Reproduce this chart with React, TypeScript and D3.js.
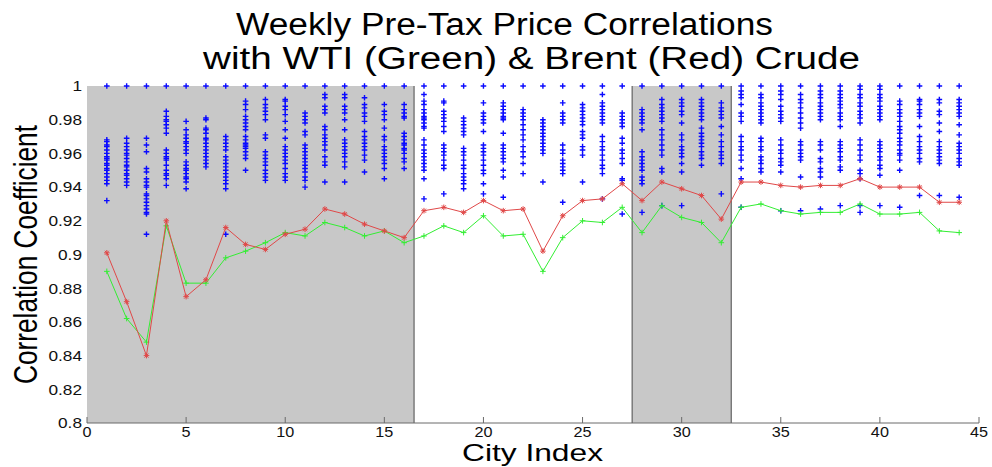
import React from 'react';
import * as d3 from 'd3';

// ---------- data ----------
const cityIndex = [1,2,3,4,5,6,7,8,9,10,11,12,13,14,15,16,17,18,19,20,21,22,23,24,25,26,27,28,29,30,31,32,33,34,35,36,37,38,39,40,41,42,43,44];

// Brent (red) correlation per city
const brentCorr = [0.901,0.872,0.840,0.920,0.875,0.885,0.916,0.906,0.903,0.912,0.915,0.927,0.924,0.918,0.914,0.910,0.926,0.928,0.925,0.932,0.926,0.927,0.902,0.923,0.932,0.933,0.942,0.932,0.943,0.939,0.935,0.921,0.943,0.943,0.941,0.940,0.941,0.941,0.945,0.940,0.940,0.940,0.931,0.931];

// WTI (green) correlation per city
const wtiCorr = [0.890,0.862,0.848,0.917,0.883,0.883,0.898,0.902,0.907,0.913,0.911,0.919,0.916,0.911,0.914,0.907,0.911,0.917,0.913,0.923,0.911,0.912,0.890,0.910,0.920,0.919,0.928,0.913,0.929,0.922,0.919,0.907,0.928,0.930,0.926,0.924,0.925,0.925,0.930,0.924,0.924,0.925,0.914,0.913];

// Pairwise city-to-city correlations (blue points), one list per city
const cityPairCorr: number[][] = [
  [1.0,0.968,0.967,0.965,0.964,0.962,0.960,0.958,0.957,0.956,0.954,0.953,0.951,0.950,0.948,0.946,0.944,0.942,0.932],
  [1.0,0.969,0.966,0.964,0.962,0.960,0.959,0.957,0.955,0.953,0.952,0.950,0.948,0.947,0.945,0.943,0.941],
  [1.0,0.969,0.965,0.961,0.951,0.949,0.945,0.943,0.941,0.940,0.936,0.935,0.933,0.931,0.929,0.927,0.925,0.924,0.912],
  [1.0,0.985,0.982,0.980,0.979,0.977,0.975,0.972,0.962,0.960,0.958,0.957,0.956,0.953,0.950,0.948,0.947,0.945,0.941],
  [1.0,0.979,0.974,0.971,0.969,0.967,0.966,0.964,0.962,0.960,0.955,0.953,0.951,0.950,0.948,0.946,0.945,0.943,0.939],
  [1.0,0.981,0.980,0.975,0.974,0.972,0.969,0.968,0.966,0.964,0.962,0.960,0.958,0.956,0.954,0.952],
  [1.0,0.970,0.968,0.966,0.964,0.962,0.958,0.956,0.954,0.952,0.950,0.948,0.946,0.944,0.942,0.939,0.912],
  [1.0,0.991,0.989,0.986,0.982,0.980,0.978,0.976,0.974,0.970,0.968,0.966,0.965,0.964,0.963,0.961,0.959,0.957,0.950],
  [1.0,0.992,0.989,0.987,0.985,0.983,0.980,0.971,0.969,0.961,0.959,0.957,0.955,0.953,0.950,0.948,0.946,0.944],
  [1.0,0.992,0.991,0.988,0.986,0.983,0.979,0.974,0.969,0.964,0.962,0.960,0.958,0.956,0.954,0.951,0.948,0.946,0.944],
  [1.0,0.984,0.982,0.980,0.978,0.973,0.971,0.965,0.963,0.961,0.959,0.957,0.955,0.953,0.951,0.949,0.946,0.944,0.940],
  [1.0,0.995,0.993,0.988,0.986,0.984,0.976,0.974,0.971,0.969,0.967,0.965,0.962,0.958,0.955,0.953,0.943],
  [1.0,0.995,0.993,0.988,0.986,0.984,0.980,0.974,0.968,0.966,0.964,0.962,0.960,0.958,0.955,0.952,0.943],
  [1.0,0.993,0.989,0.987,0.984,0.982,0.979,0.973,0.970,0.968,0.966,0.964,0.962,0.959,0.956,0.949],
  [1.0,0.989,0.985,0.983,0.980,0.975,0.970,0.968,0.964,0.962,0.960,0.958,0.956,0.954,0.951,0.945],
  [1.0,0.989,0.986,0.984,0.982,0.981,0.972,0.970,0.968,0.966,0.965,0.963,0.962,0.960,0.957,0.955,0.951],
  [1.0,0.995,0.991,0.989,0.986,0.984,0.982,0.981,0.980,0.978,0.976,0.975,0.968,0.965,0.962,0.960,0.958,0.956,0.954,0.952,0.950,0.945,0.933],
  [1.0,0.991,0.990,0.985,0.983,0.981,0.979,0.976,0.973,0.965,0.963,0.961,0.959,0.956,0.953,0.951,0.936],
  [1.0,0.981,0.979,0.977,0.975,0.973,0.971,0.963,0.961,0.959,0.956,0.953,0.951,0.948,0.946,0.944,0.942,0.939],
  [1.0,0.990,0.984,0.982,0.980,0.978,0.973,0.965,0.963,0.961,0.959,0.956,0.953,0.950,0.948,0.942,0.936],
  [1.0,0.990,0.988,0.986,0.984,0.982,0.981,0.980,0.972,0.965,0.963,0.961,0.959,0.957,0.955,0.950,0.946,0.934],
  [1.0,0.986,0.984,0.982,0.980,0.977,0.974,0.971,0.968,0.964,0.961,0.958,0.954,0.948],
  [1.0,0.980,0.978,0.976,0.974,0.972,0.970,0.968,0.966,0.964,0.962,0.960,0.943],
  [1.0,0.990,0.984,0.982,0.980,0.978,0.965,0.962,0.960,0.956,0.954,0.952,0.950,0.948,0.931],
  [1.0,0.989,0.987,0.985,0.983,0.981,0.979,0.977,0.973,0.971,0.969,0.964,0.962,0.959,0.943],
  [1.0,0.995,0.990,0.988,0.986,0.984,0.982,0.980,0.978,0.970,0.967,0.964,0.962,0.959,0.956,0.953,0.951,0.948,0.933],
  [1.0,0.984,0.982,0.980,0.978,0.976,0.969,0.966,0.962,0.960,0.957,0.954,0.945,0.944,0.924],
  [1.0,0.986,0.984,0.982,0.980,0.978,0.974,0.961,0.958,0.956,0.954,0.952,0.950,0.946,0.944,0.942,0.925],
  [1.0,0.992,0.989,0.987,0.985,0.983,0.981,0.979,0.974,0.971,0.968,0.965,0.962,0.959,0.951,0.949,0.929],
  [1.0,0.992,0.990,0.988,0.985,0.983,0.978,0.971,0.968,0.964,0.962,0.960,0.958,0.954,0.949,0.929],
  [1.0,0.992,0.990,0.988,0.986,0.984,0.982,0.980,0.975,0.972,0.970,0.968,0.966,0.964,0.961,0.959,0.957,0.953],
  [1.0,0.990,0.987,0.985,0.983,0.981,0.976,0.971,0.967,0.964,0.961,0.959,0.957,0.954,0.936],
  [1.0,0.997,0.995,0.993,0.989,0.984,0.982,0.979,0.970,0.967,0.964,0.962,0.959,0.956,0.951,0.945,0.928],
  [1.0,0.995,0.993,0.990,0.988,0.986,0.984,0.982,0.980,0.978,0.969,0.967,0.964,0.962,0.958,0.956,0.954,0.951,0.949],
  [1.0,0.997,0.995,0.992,0.988,0.985,0.983,0.981,0.979,0.968,0.965,0.962,0.960,0.957,0.955,0.953,0.949,0.926],
  [1.0,0.995,0.992,0.990,0.987,0.984,0.981,0.978,0.975,0.967,0.965,0.962,0.960,0.958,0.956,0.946,0.926],
  [1.0,0.997,0.995,0.993,0.990,0.988,0.986,0.984,0.982,0.980,0.967,0.965,0.962,0.957,0.955,0.951,0.949,0.946,0.927],
  [1.0,0.997,0.995,0.993,0.991,0.989,0.987,0.984,0.982,0.980,0.976,0.967,0.965,0.963,0.961,0.958,0.956,0.952,0.950,0.929],
  [1.0,0.998,0.995,0.993,0.990,0.988,0.985,0.983,0.981,0.978,0.968,0.965,0.962,0.959,0.956,0.950,0.948,0.945,0.929,0.925],
  [1.0,0.998,0.995,0.993,0.991,0.988,0.986,0.984,0.982,0.980,0.967,0.965,0.963,0.961,0.958,0.956,0.953,0.951,0.947,0.929],
  [1.0,0.991,0.989,0.986,0.984,0.982,0.979,0.976,0.974,0.972,0.969,0.967,0.965,0.962,0.960,0.959,0.956,0.950,0.928],
  [1.0,0.992,0.991,0.989,0.986,0.984,0.982,0.976,0.970,0.967,0.964,0.962,0.960,0.957,0.955,0.935],
  [1.0,0.992,0.990,0.985,0.983,0.978,0.973,0.967,0.964,0.962,0.960,0.958,0.956,0.954,0.935],
  [1.0,0.992,0.990,0.988,0.986,0.984,0.982,0.977,0.971,0.966,0.964,0.962,0.960,0.957,0.955,0.953,0.934],
];

// shaded city groups [start, end] in city-index units
const shadedRanges: [number, number][] = [[0, 16.5], [27.5, 32.5]];

const xTicks = [0, 5, 10, 15, 20, 25, 30, 35, 40, 45];
const yTicks = [0.8, 0.82, 0.84, 0.86, 0.88, 0.9, 0.92, 0.94, 0.96, 0.98, 1];
const yTickLabels = ['0.8', '0.82', '0.84', '0.86', '0.88', '0.9', '0.92', '0.94', '0.96', '0.98', '1'];

const titleLines = ['Weekly Pre-Tax Price Correlations', 'with WTI (Green) & Brent (Red) Crude'];
const xLabel = 'City Index';
const yLabel = 'Correlation Coefficient';

// ---------- chart ----------
const W = 992;
const H = 467;
const FONT = "'Liberation Sans', Arial, Helvetica, sans-serif";

const plusPath = (s: number) => `M${-s},0H${s}M0,${-s}V${s}`;
const starPath = (s: number) => {
  const d = s * 0.72;
  return `M${-s},0H${s}M0,${-s}V${s}M${-d},${-d}L${d},${d}M${-d},${d}L${d},${-d}`;
};

export default function App() {
  const x = d3.scaleLinear().domain([0, 45]).range([87, 979]);
  const y = d3.scaleLinear().domain([0.8, 1]).range([423, 86]);

  const line = d3
    .line<number>()
    .x((_, i) => x(cityIndex[i]))
    .y((d) => y(d));

  const bluePlus = plusPath(2.8);
  const greenPlus = plusPath(2.8);
  const redStar = starPath(2.8);

  return (
    <svg
      width={W}
      height={H}
      viewBox={`0 0 ${W} ${H}`}
      style={{ position: 'absolute', left: 0, top: 0, background: '#fff' }}
      fontFamily={FONT}
    >
      <rect x={0} y={0} width={W} height={H} fill="#fff" />

      {/* shaded groups */}
      {shadedRanges.map(([a, b], i) => (
        <rect key={`sh${i}`} x={x(a)} y={y(1)} width={x(b) - x(a)} height={y(0.8) - y(1)} fill="#c8c8c8" />
      ))}
      {shadedRanges.map(([a, b], i) => (
        <g key={`shl${i}`}>
          {a > 0 && <line x1={x(a)} x2={x(a)} y1={y(1)} y2={y(0.8)} stroke="#4a4a4a" strokeWidth={1} />}
          <line x1={x(b)} x2={x(b)} y1={y(1)} y2={y(0.8)} stroke="#4a4a4a" strokeWidth={1} />
        </g>
      ))}

      {/* bottom axis */}
      <line x1={x(0)} x2={x(45)} y1={y(0.8)} y2={y(0.8)} stroke="#6a6a6a" strokeWidth={1} />
      {xTicks.map((t) => (
        <line key={`xt${t}`} x1={x(t)} x2={x(t)} y1={y(0.8)} y2={y(0.8) - 6} stroke="#6a6a6a" strokeWidth={1} />
      ))}
      {xTicks.map((t) => (
        <g key={`xl${t}`} transform={`translate(${x(t)},${437}) scale(1.08,1)`}>
          <text textAnchor="middle" fontSize={15} fill="#111">{t}</text>
        </g>
      ))}
      {yTicks.map((t, i) => (
        <g key={`yl${t}`} transform={`translate(82,${y(t) + 5.3}) scale(1.15,1)`}>
          <text textAnchor="end" fontSize={15} fill="#111">{yTickLabels[i]}</text>
        </g>
      ))}

      {/* blue pairwise points */}
      <g stroke="#0a0aff" strokeWidth={1.4} fill="none">
        {cityPairCorr.map((vals, ci) =>
          vals.map((v, j) => (
            <path key={`b${ci}-${j}`} d={bluePlus} transform={`translate(${x(cityIndex[ci])},${y(v)})`} />
          ))
        )}
      </g>

      {/* WTI green */}
      <path d={line(wtiCorr) || ''} fill="none" stroke="#33ee33" strokeWidth={1} />
      <g stroke="#33ee33" strokeWidth={1} fill="none">
        {wtiCorr.map((v, i) => (
          <path key={`g${i}`} d={greenPlus} transform={`translate(${x(cityIndex[i])},${y(v)})`} />
        ))}
      </g>

      {/* Brent red */}
      <path d={line(brentCorr) || ''} fill="none" stroke="#e04848" strokeWidth={1} />
      <g stroke="#e04848" strokeWidth={1} fill="none">
        {brentCorr.map((v, i) => (
          <path key={`r${i}`} d={redStar} transform={`translate(${x(cityIndex[i])},${y(v)})`} />
        ))}
      </g>

      {/* title */}
      <text x={236} y={35} fontSize={31} fill="#000" textLength={537} lengthAdjust="spacingAndGlyphs">
        {titleLines[0]}
      </text>
      <text x={203} y={69} fontSize={31} fill="#000" textLength={657} lengthAdjust="spacingAndGlyphs">
        {titleLines[1]}
      </text>

      {/* axis labels */}
      <text x={462} y={460.5} fontSize={24} fill="#000" textLength={141} lengthAdjust="spacingAndGlyphs">
        {xLabel}
      </text>
      <text
        transform={`translate(37,384) rotate(-90)`}
        fontSize={33}
        fill="#000"
        textLength={259}
        lengthAdjust="spacingAndGlyphs"
      >
        {yLabel}
      </text>
    </svg>
  );
}
